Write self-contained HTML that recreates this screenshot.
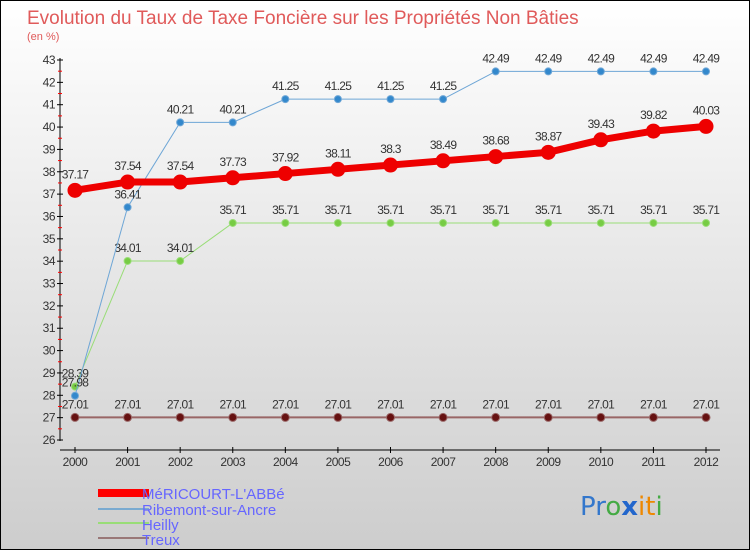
<!DOCTYPE html>
<html><head><meta charset="utf-8"><style>
body{margin:0;width:750px;height:550px;overflow:hidden;font-family:"Liberation Sans",sans-serif}
</style></head><body>
<svg width="750" height="550" style="display:block">
<defs><linearGradient id="bg" x1="0" y1="0" x2="0" y2="1"><stop offset="0" stop-color="#ffffff"/><stop offset="1" stop-color="#cdcdcd"/></linearGradient></defs>
<rect x="0.5" y="0.5" width="749" height="549" fill="url(#bg)" stroke="#000"/>
<text x="27" y="24" font-size="19" fill="#e05a5a">Evolution du Taux de Taxe Foncière sur les Propriétés Non Bâties</text>
<text x="27" y="40" font-size="11" fill="#e05a5a">(en %)</text>
<g id="axes"></g><g id="series"></g>
<g font-size="15" fill="#6666ff">
<rect x="98" y="489" width="51" height="8" fill="#f00"/>
<text x="142" y="499">MéRICOURT-L'ABBé</text>
<rect x="98" y="508" width="51" height="2" fill="#7aaad0"/>
<text x="142" y="515">Ribemont-sur-Ancre</text>
<rect x="98" y="522" width="51" height="2" fill="#99dd77"/>
<text x="142" y="530">Heilly</text>
<rect x="98" y="537" width="51" height="2" fill="#997777"/>
<text x="142" y="545">Treux</text>
</g>
<text x="580" y="515" font-size="26" font-family="'DejaVu Sans',sans-serif"><tspan fill="#3377cc">Pr</tspan><tspan fill="#44aa44">o</tspan><tspan fill="#2266cc" font-weight="bold">x</tspan><tspan fill="#ee8800">it</tspan><tspan fill="#44aa44">i</tspan></text>
</svg>
<script>
const years=[2000,2001,2002,2003,2004,2005,2006,2007,2008,2009,2010,2011,2012];
const mericourt=[37.17,37.54,37.54,37.73,37.92,38.11,38.3,38.49,38.68,38.87,39.43,39.82,40.03];
const ribemont=[27.98,36.41,40.21,40.21,41.25,41.25,41.25,41.25,42.49,42.49,42.49,42.49,42.49];
const heilly=[28.39,34.01,34.01,35.71,35.71,35.71,35.71,35.71,35.71,35.71,35.71,35.71,35.71];
const treux=[27.01,27.01,27.01,27.01,27.01,27.01,27.01,27.01,27.01,27.01,27.01,27.01,27.01];
const yTicks=[26,27,28,29,30,31,32,33,34,35,36,37,38,39,40,41,42,43];
const NS="http://www.w3.org/2000/svg";
const X=i=>75+i*(706-75)/(years.length-1);
const Y=v=>440-(v-26)*(380/17);
function mk(t,a,p){const e=document.createElementNS(NS,t);for(const k in a)e.setAttribute(k,a[k]);p.appendChild(e);return e;}
const ax=document.getElementById('axes');
const yl=mk('line',{x1:60,y1:58,x2:60,y2:441,stroke:'#000'},ax);


const xl=mk('line',{x1:60,y1:450,x2:720,y2:450,stroke:'#000'},ax);


yTicks.forEach(v=>{
 mk('line',{x1:57,y1:Y(v),x2:63,y2:Y(v),stroke:'#000'},ax);
 if(v<43)mk('line',{x1:58,y1:Y(v+0.5),x2:62,y2:Y(v+0.5),stroke:'#f00'},ax);
 const t=mk('text',{x:55,y:Y(v)+4,'font-size':12,fill:'#333','text-anchor':'end','letter-spacing':'-0.5'},ax);
 t.textContent=v;
 
 
});
years.forEach((y,i)=>{
 mk('line',{x1:X(i),y1:447,x2:X(i),y2:453,stroke:'#000'},ax);
 const t=mk('text',{x:X(i),y:466,'font-size':12,fill:'#333','text-anchor':'middle','letter-spacing':'-0.5'},ax);
 t.textContent=y;
 
 
});
const sg=document.getElementById('series');
function draw(name,vals,color,w,r,fill,labelDy){
 const g=mk('g',{},sg);
 
 
 const p=mk('polyline',{points:vals.map((v,i)=>X(i)+','+Y(v)).join(' '),fill:'none',stroke:color,'stroke-width':w,'stroke-linejoin':'round'},g);
 
 
 vals.forEach((v,i)=>{
  const c=mk('circle',{cx:X(i),cy:Y(v),r:r,fill:fill,stroke:color,'stroke-width':1},g);
  
  
  const t=mk('text',{x:X(i),y:Y(v)+labelDy,'font-size':12,fill:'#333','text-anchor':'middle','letter-spacing':'-0.7'},g);
  t.textContent=v;
  
  
 });
}
draw('treux',treux,'#996666',2,4,'#661111',-9);
draw('heilly',heilly,'#99dd77',1,3.5,'#77cc44',-9);
draw('ribemont',ribemont,'#6ea6d6',1,3.5,'#3388cc',-9);
draw('mericourt',mericourt,'#ee0000',7,7,'#ee0000',-12);
</script>
</body></html>
